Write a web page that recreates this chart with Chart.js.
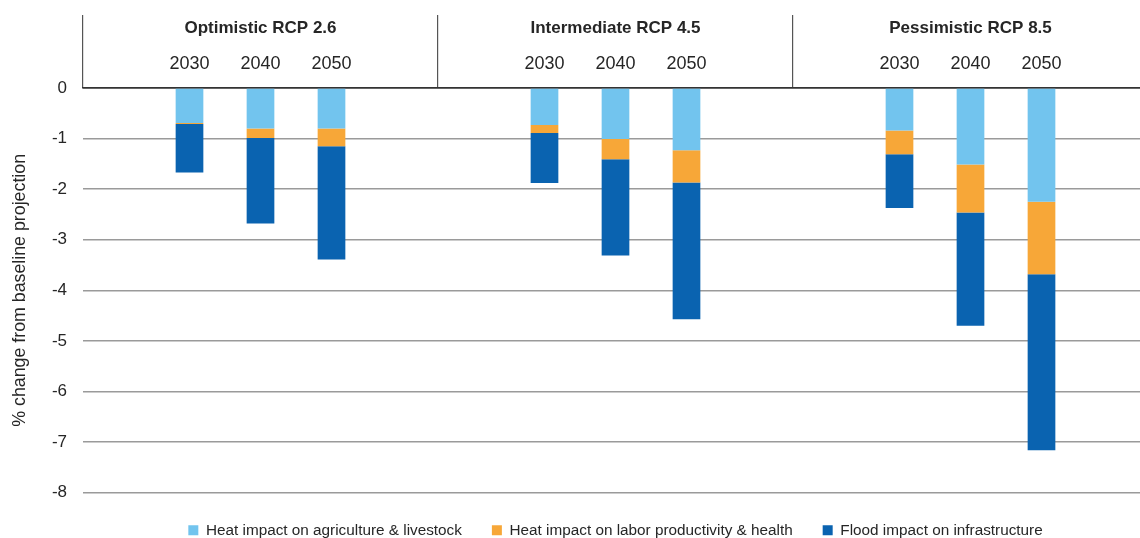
<!DOCTYPE html>
<html>
<head>
<meta charset="utf-8">
<script src="https://cdn.jsdelivr.net/npm/chart.js@4/dist/chart.umd.min.js"></script>
<style>
  body { margin: 0; background: #fff; overflow: hidden; }
  #wrap { width: 1150px; height: 548px; }
</style>
</head>
<body>
<div id="wrap"><canvas id="chart"></canvas></div>
<script>
const scenarios = ['Optimistic RCP 2.6', 'Intermediate RCP 4.5', 'Pessimistic RCP 8.5'];
const years = ['2030', '2040', '2050'];
const yTicks = [0, -1, -2, -3, -4, -5, -6, -7, -8];

// values per scenario x year, in % change from baseline
const heatAgri  = [-0.69, -0.80, -0.80, -0.73, -1.01, -1.23, -0.84, -1.51, -2.25];
const heatLabor = [-0.02, -0.19, -0.35, -0.16, -0.40, -0.64, -0.47, -0.95, -1.43];
const flood     = [-0.96, -1.69, -2.24, -0.99, -1.90, -2.70, -1.06, -2.24, -3.48];

const font = "'Liberation Sans', Arial, sans-serif";
const textColor = '#262626';

// each scenario gets an empty slot on both sides of its three years
const labels = [];
scenarios.forEach(() => labels.push('', ...years, ''));

function toSlots(values) {
    const out = [];
    scenarios.forEach((s, i) => {
        out.push(null, ...values.slice(i * 3, i * 3 + 3), null);
    });
    return out;
}

new Chart(document.getElementById('chart'), {
    type: 'bar',
    data: {
        labels: labels,
        datasets: [
            { label: 'Heat impact on agriculture & livestock', data: toSlots(heatAgri), backgroundColor: '#72C4EE' },
            { label: 'Heat impact on labor productivity & health', data: toSlots(heatLabor), backgroundColor: '#F7A738' },
            { label: 'Flood impact on infrastructure', data: toSlots(flood), backgroundColor: '#0A63B0' }
        ]
    },
    options: {
        responsive: true,
        maintainAspectRatio: false,
        animation: false,
        barPercentage: 0.39,
        categoryPercentage: 1,
        layout: { padding: { top: 18, right: 2, left: 0, bottom: 0 } },
        plugins: {
            tooltip: { enabled: false },
            legend: {
                position: 'bottom',
                fullSize: false,
                labels: {
                    boxWidth: 10,
                    boxHeight: 10,
                    padding: 30,
                    color: textColor,
                    font: { family: font, size: 15.3 }
                }
            }
        },
        scales: {
            x: {
                position: 'top',
                stacked: true,
                weight: 0,
                grid: {
                    offset: true,
                    drawOnChartArea: false,
                    drawTicks: true,
                    tickLength: 35,
                    color: (ctx) => (ctx.index !== undefined && ctx.index % 5 === 0) ? '#555' : 'rgba(0,0,0,0)',
                    lineWidth: 1.2
                },
                border: { display: true, color: '#333', width: 1.5 },
                ticks: {
                    autoSkip: false,
                    maxRotation: 0,
                    padding: -22,
                    color: textColor,
                    font: { family: font, size: 18 }
                },
                afterFit: (scale) => { scale.height = 35; }
            },
            xg: {
                type: 'category',
                labels: scenarios,
                position: 'top',
                offset: true,
                weight: 1,
                grid: {
                    offset: true,
                    drawOnChartArea: false,
                    drawTicks: true,
                    tickLength: 38,
                    color: '#555',
                    lineWidth: 1.2
                },
                border: { display: false },
                ticks: {
                    maxRotation: 0,
                    padding: -24,
                    color: textColor,
                    font: { family: font, size: 17, weight: 'bold' }
                },
                afterFit: (scale) => { scale.height = 35; }
            },
            y: {
                stacked: true,
                min: -8,
                max: 0,
                afterBuildTicks: (scale) => { scale.ticks = yTicks.map(v => ({ value: v })); },
                grid: {
                    drawTicks: false,
                    color: (ctx) => ctx.tick && ctx.tick.value === 0 ? '#333' : '#9a9a9a',
                    lineWidth: 1.5
                },
                border: { display: false },
                ticks: {
                    padding: 16,
                    color: textColor,
                    font: { family: font, size: 17 }
                },
                title: {
                    display: true,
                    text: '% change from baseline projection',
                    color: textColor,
                    padding: { top: 9, bottom: 0 },
                    font: { family: font, size: 17.8 }
                },
                afterFit: (scale) => { scale.width = 83; }
            }
        }
    }
});
</script>
</body>
</html>
